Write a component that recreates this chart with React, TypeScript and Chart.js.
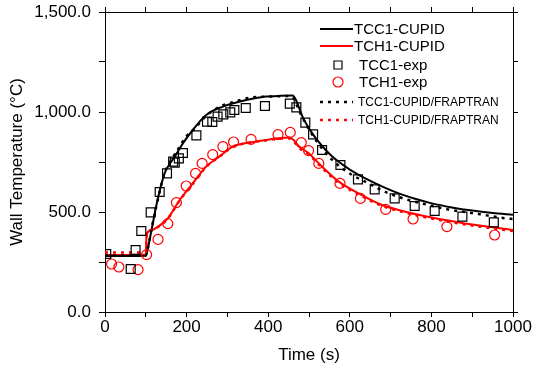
import React, { useEffect, useRef } from 'react';
import { Chart, registerables } from 'chart.js';

Chart.register(...registerables);

const FONT = "'Liberation Sans', Arial, Helvetica, sans-serif";

// TCC1-CUPID (solid black)
const tcc1CupidT = [0, 50, 100, 103, 115, 126, 146, 160, 171, 191, 215, 248, 289, 346, 394, 430, 460, 468, 484, 508, 530, 557, 600, 638, 680, 720, 760, 801, 850, 900, 950, 1000];
const tcc1CupidV = [280, 280, 281, 300, 420, 535, 693, 745, 777, 843, 910, 985, 1027, 1060, 1077, 1081, 1082, 1060, 977, 893, 835, 777, 712, 668, 627, 593, 566, 543, 523, 507, 495, 486];

// TCH1-CUPID (solid red)
const tch1CupidT = [0, 50, 100, 102, 115, 130, 154, 183, 215, 248, 280, 313, 354, 394, 430, 452, 462, 476, 500, 524, 573, 622, 679, 720, 801, 882, 950, 1000];
const tch1CupidV = [285, 285, 287, 390, 410, 427, 468, 560, 643, 727, 777, 827, 847, 860, 870, 873, 860, 827, 793, 743, 652, 593, 535, 510, 472, 443, 424, 410];

// TCC1-exp (squares)
const tcc1ExpT = [3, 63, 75, 89, 112, 134, 152, 167, 171, 181, 191, 224, 250, 263, 276, 290, 307, 317, 345, 392, 453, 469, 491, 510, 532, 577, 620, 661, 710, 759, 808, 876, 953];
const tcc1ExpV = [290, 215, 310, 405, 498, 600, 693, 752, 747, 768, 795, 883, 952, 950, 977, 988, 998, 1010, 1020, 1030, 1042, 1023, 947, 888, 810, 735, 663, 613, 568, 530, 505, 477, 448];

// TCH1-exp (circles)
const tch1ExpT = [16, 34, 81, 102, 130, 154, 175, 199, 222, 238, 264, 289, 315, 358, 424, 454, 481, 499, 524, 576, 626, 688, 755, 838, 955];
const tch1ExpV = [240, 225, 212, 287, 363, 442, 547, 630, 693, 743, 787, 827, 850, 863, 887, 898, 847, 807, 743, 643, 568, 513, 465, 427, 385];

// TCC1-CUPID/FRAPTRAN (dotted black)
const tcc1FrapT = [0, 50, 100, 103, 115, 126, 146, 160, 175, 200, 218, 233, 250, 270, 287, 309, 358, 402, 451, 462, 475, 496, 520, 549, 580, 606, 646, 691, 744, 793, 841, 906, 984, 1000];
const tcc1FrapV = [282, 282, 283, 300, 425, 530, 695, 752, 800, 880, 913, 948, 985, 1013, 1032, 1047, 1072, 1077, 1080, 1070, 1010, 927, 850, 777, 720, 685, 643, 597, 560, 535, 513, 493, 468, 465];

// TCH1-CUPID/FRAPTRAN (dotted red)
const tch1FrapT = [0, 50, 100, 103, 115, 130, 154, 183, 215, 248, 280, 313, 354, 394, 430, 452, 462, 476, 500, 524, 573, 622, 679, 720, 801, 882, 950, 1000];
const tch1FrapV = [297, 297, 297, 393, 410, 425, 466, 558, 640, 725, 776, 825, 846, 858, 866, 868, 855, 820, 787, 737, 645, 587, 530, 505, 467, 438, 418, 405];

const xTickLabels = ['0', '200', '400', '600', '800', '1000'];
const yTickLabels = ['0.0', '500.0', '1,000.0', '1,500.0'];

const pts = (t: number[], v: number[]) => t.map((x, i) => ({ x, y: v[i] }));

const legendPlugin = {
  id: 'customLegend',
  afterDraw(chart: any) {
    const ctx = chart.ctx;
    const rows = [29, 46, 65, 82, 102, 120];
    const sizes = [15, 15, 15, 15, 12, 12];
    const textX = [354, 354, 359, 359, 358, 358];
    ctx.save();
    chart.data.datasets.forEach((ds: any, i: number) => {
      const y = rows[i];
      ctx.strokeStyle = ds.borderColor;
      if (ds.showLine) {
        ctx.lineWidth = ds.borderWidth;
        ctx.setLineDash(ds.borderDash || []);
        ctx.beginPath();
        ctx.moveTo(320, y);
        ctx.lineTo(353, y);
        ctx.stroke();
        ctx.setLineDash([]);
      } else {
        ctx.lineWidth = 1.2;
        ctx.beginPath();
        if (ds.pointStyle === 'rect') {
          ctx.rect(334, y - 4, 8, 8);
        } else {
          ctx.arc(338, y, 5, 0, Math.PI * 2);
        }
        ctx.stroke();
      }
      ctx.fillStyle = '#000';
      ctx.font = `${sizes[i]}px ${FONT}`;
      ctx.textAlign = 'left';
      ctx.textBaseline = 'middle';
      ctx.fillText(ds.label, textX[i], y + 1);
    });
    ctx.restore();
  },
};

export default function App() {
  const ref = useRef<HTMLCanvasElement>(null);
  useEffect(() => {
    document.body.style.margin = '0';
    const lineDs = (label: string, t: number[], v: number[], color: string, dash: number[] | null, order: number) => ({
      label,
      data: pts(t, v),
      showLine: true,
      borderColor: color,
      backgroundColor: color,
      borderWidth: dash ? 2.5 : 2,
      borderDash: dash || [],
      pointRadius: 0,
      cubicInterpolationMode: 'monotone',
      order,
    });
    const markDs = (label: string, t: number[], v: number[], color: string, style: string, r: number) => ({
      label,
      data: pts(t, v),
      showLine: false,
      borderColor: color,
      backgroundColor: 'rgba(0,0,0,0)',
      pointStyle: style,
      pointRadius: r,
      pointBorderWidth: 1.2,
      order: 0,
    });
    const tickFont = { family: FONT, size: 17 };
    const chart = new Chart(ref.current!, {
      type: 'scatter',
      data: {
        datasets: [
          lineDs('TCC1-CUPID', tcc1CupidT, tcc1CupidV, '#000000', null, 3),
          lineDs('TCH1-CUPID', tch1CupidT, tch1CupidV, '#ff0000', null, 4),
          markDs('TCC1-exp', tcc1ExpT, tcc1ExpV, '#000000', 'rect', 6.3),
          markDs('TCH1-exp', tch1ExpT, tch1ExpV, '#ff0000', 'circle', 5),
          lineDs('TCC1-CUPID/FRAPTRAN', tcc1FrapT, tcc1FrapV, '#000000', [3, 5], 1),
          lineDs('TCH1-CUPID/FRAPTRAN', tch1FrapT, tch1FrapV, '#ff0000', [3, 5], 2),
        ] as any,
      },
      options: {
        responsive: false,
        animation: false,
        layout: { padding: 0 },
        plugins: { legend: { display: false }, tooltip: { enabled: false } },
        scales: {
          x: {
            type: 'linear',
            position: 'bottom',
            min: 0,
            max: 1000,
            ticks: {
              stepSize: 100,
              autoSkip: false,
              maxRotation: 0,
              color: '#000',
              font: tickFont,
              padding: 0,
              callback: (v: any) => {
                const idx = xTickLabels.indexOf(String(v));
                return idx >= 0 ? xTickLabels[idx] : '';
              },
            },
            grid: { drawOnChartArea: false, drawTicks: true, tickLength: 5, color: '#000', lineWidth: 1 },
            border: { display: true, color: '#000', width: 1 },
            title: { display: true, text: 'Time (s)', color: '#000', font: { family: FONT, size: 17 }, padding: { top: 0, bottom: 8 } },
            afterFit: (s: any) => { s.height = 62; s.paddingLeft = 0; s.paddingRight = 0; },
          },
          x2: {
            type: 'linear',
            position: 'top',
            min: 0,
            max: 1000,
            ticks: { stepSize: 100, autoSkip: false, display: false },
            grid: { drawOnChartArea: false, drawTicks: true, tickLength: 5, color: '#000', lineWidth: 1 },
            border: { display: true, color: '#000', width: 1 },
            afterFit: (s: any) => { s.height = 12; s.paddingLeft = 0; s.paddingRight = 0; },
          },
          y: {
            type: 'linear',
            position: 'left',
            min: 0,
            max: 1500,
            ticks: {
              stepSize: 250,
              autoSkip: false,
              color: '#000',
              font: tickFont,
              padding: 8,
              callback: (v: any) => {
                const n = Number(v);
                if (n % 500 !== 0) return '';
                return yTickLabels[n / 500];
              },
            },
            grid: { drawOnChartArea: false, drawTicks: true, tickLength: 6, color: '#000', lineWidth: 1 },
            border: { display: true, color: '#000', width: 1 },
            title: { display: true, text: 'Wall Temperature (°C)', color: '#000', font: { family: FONT, size: 17 }, padding: { top: 7, bottom: 0 } },
            afterFit: (s: any) => { s.width = 105; s.paddingTop = 0; s.paddingBottom = 0; },
          },
          y2: {
            type: 'linear',
            position: 'right',
            min: 0,
            max: 1500,
            ticks: { stepSize: 250, autoSkip: false, display: false },
            grid: { drawOnChartArea: false, drawTicks: true, tickLength: 5, color: '#000', lineWidth: 1 },
            border: { display: true, color: '#000', width: 1 },
            afterFit: (s: any) => { s.width = 23; s.paddingTop = 0; s.paddingBottom = 0; },
          },
        },
      } as any,
      plugins: [legendPlugin],
    });
    return () => chart.destroy();
  }, []);
  return (
    <div style={{ position: 'absolute', left: 0, top: 0, width: 536, height: 374 }}>
      <canvas ref={ref} width={536} height={374} style={{ width: 536, height: 374, display: 'block' }} />
    </div>
  );
}
